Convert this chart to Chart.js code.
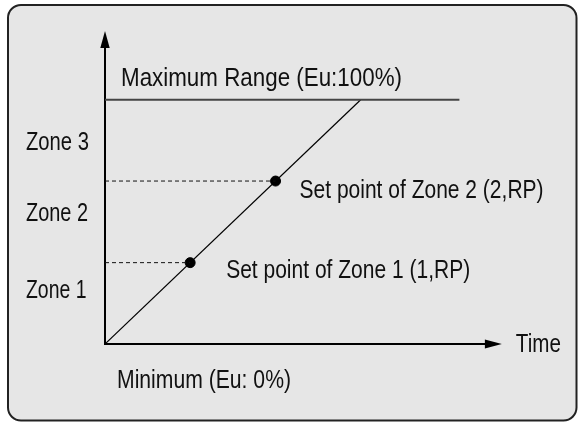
<!DOCTYPE html>
<html>
<head>
<meta charset="utf-8">
<script src="https://cdn.jsdelivr.net/npm/chart.js@4/dist/chart.umd.min.js"></script>
<style>
  html, body { margin: 0; padding: 0; background: #ffffff; }
  #wrap { width: 578px; height: 423px; }
</style>
</head>
<body>
<div id="wrap"><canvas id="zoneChart" width="578" height="423"></canvas></div>
<script>
// values (x = time, y = % of range)
const rampX = [0, 100];
const rampY = [0, 100];
const maxRangeX = [0, 138.6];
const maxRangeY = [100, 100];
const setPointX = [33.3, 66.7];
const setPointY = [33.3, 66.7];
const setPointLabels = ['Set point of Zone 1 (1,RP)', 'Set point of Zone 2 (2,RP)'];
const zoneLabels = ['Zone 1', 'Zone 2', 'Zone 3'];
const maxLabel = 'Maximum Range (Eu:100%)';
const minLabel = 'Minimum (Eu: 0%)';
const timeLabel = 'Time';
const axisTipX = 155.2;
const axisTipY = 128.1;

const FONT = '25px "Liberation Sans", Arial, sans-serif';

function pts(xs, ys) {
    return xs.map((x, i) => ({ x: x, y: ys[i] }));
}

// rounded grey panel behind the chart
const panelPlugin = {
    id: 'panel',
    beforeDraw(chart) {
        const c = chart.ctx;
        c.save();
        c.beginPath();
        c.roundRect(8, 5, 568.5, 415.5, 13);
        c.fillStyle = '#e6e6e6';
        c.fill();
        c.lineWidth = 2;
        c.strokeStyle = '#222';
        c.stroke();
        c.restore();
    }
};

// axes with arrow heads + all the text
const axesPlugin = {
    id: 'axes',
    beforeDatasetsDraw(chart) {
        const c = chart.ctx;
        const xs = chart.scales.x, ys = chart.scales.y;
        const x0 = xs.getPixelForValue(0), y0 = ys.getPixelForValue(0);
        const xt = xs.getPixelForValue(axisTipX), yt = ys.getPixelForValue(axisTipY);
        c.save();
        c.strokeStyle = '#000';
        c.fillStyle = '#000';
        c.lineWidth = 2;
        c.beginPath();
        c.moveTo(x0, y0);
        c.lineTo(xt - 10, y0);
        c.moveTo(x0, y0 + 1);
        c.lineTo(x0, yt + 10);
        c.stroke();
        // x arrow
        c.beginPath();
        c.moveTo(xt, y0);
        c.lineTo(xt - 17, y0 - 4.5);
        c.lineTo(xt - 17, y0 + 4.5);
        c.closePath();
        c.fill();
        // y arrow
        c.beginPath();
        c.moveTo(x0, yt);
        c.lineTo(x0 - 4.7, yt + 17);
        c.lineTo(x0 + 4.7, yt + 17);
        c.closePath();
        c.fill();
        c.restore();
    },
    afterDatasetsDraw(chart) {
        const c = chart.ctx;
        const xs = chart.scales.x, ys = chart.scales.y;
        c.save();
        c.font = FONT;
        c.fillStyle = '#111';
        c.textAlign = 'left';
        c.textBaseline = 'alphabetic';
        // zone names, left column
        const zoneY = [ys.getPixelForValue(setPointY[0]) + 35.5, ys.getPixelForValue(setPointY[1]) + 39.7, ys.getPixelForValue(maxRangeY[0]) + 50.3];
        const zoneW = [60.5, 62, 63];
        zoneLabels.forEach((t, i) => c.fillText(t, 26, zoneY[i], zoneW[i]));
        // set point labels
        const lblDx = [36, 24];
        const lblDy = [15.5, 17];
        setPointLabels.forEach((t, i) => {
            const px = xs.getPixelForValue(setPointX[i]);
            const py = ys.getPixelForValue(setPointY[i]);
            c.fillText(t, px + lblDx[i], py + lblDy[i], 244);
        });
        const top = ys.getPixelForValue(maxRangeY[0]);
        const x0 = xs.getPixelForValue(0), y0 = ys.getPixelForValue(0);
        c.fillText(maxLabel, x0 + 16, top - 14, 281);
        c.fillText(minLabel, x0 + 12, y0 + 44, 174);
        c.fillText(timeLabel, xs.getPixelForValue(axisTipX) + 14, y0 + 8, 45);
        c.restore();
    }
};

const ctx = document.getElementById('zoneChart').getContext('2d');

const dashed = setPointX.map((x, i) => ({
    data: pts([0, x], [setPointY[i], setPointY[i]]),
    borderColor: '#111',
    borderWidth: 1,
    borderDash: [4, 3],
    pointRadius: 0,
    showLine: true
}));

new Chart(ctx, {
    type: 'scatter',
    data: {
        datasets: [
            ...dashed,
            {
                data: pts(maxRangeX, maxRangeY),
                borderColor: '#444',
                borderWidth: 2,
                pointRadius: 0,
                showLine: true
            },
            {
                data: pts(rampX, rampY),
                borderColor: '#000',
                borderWidth: 1.2,
                pointRadius: 0,
                showLine: true
            },
            {
                data: pts(setPointX, setPointY),
                backgroundColor: '#000',
                borderColor: '#000',
                pointRadius: 5,
                showLine: false
            }
        ]
    },
    options: {
        responsive: false,
        animation: false,
        devicePixelRatio: 1,
        layout: {
            padding: { left: 105, right: 12.74, top: 26.4, bottom: 79 }
        },
        plugins: {
            legend: { display: false },
            tooltip: { enabled: false },
            title: { display: false }
        },
        scales: {
            x: { type: 'linear', min: 0, max: 180, display: false },
            y: { type: 'linear', min: 0, max: 130, display: false }
        }
    },
    plugins: [panelPlugin, axesPlugin]
});
</script>
</body>
</html>
